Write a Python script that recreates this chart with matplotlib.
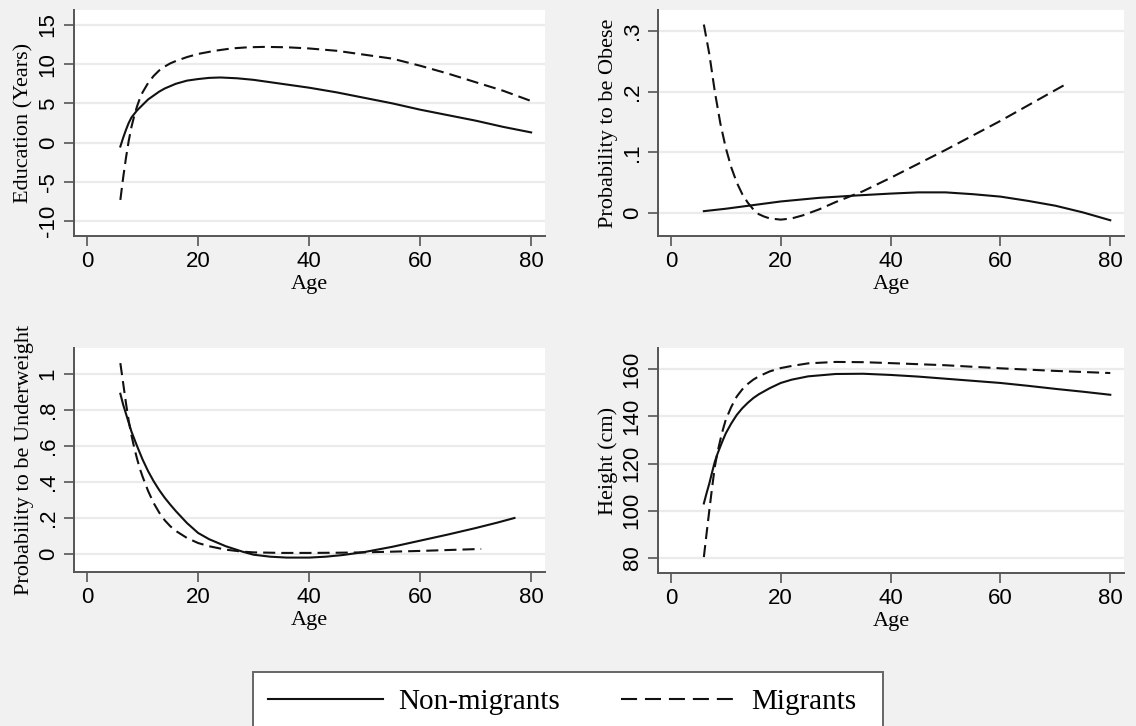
import matplotlib
matplotlib.use('Agg')
import matplotlib.pyplot as plt
from matplotlib.lines import Line2D
from matplotlib.patches import Rectangle

# ---- data ----
edu_age_non = [6, 6.5, 7, 7.5, 8, 9, 10, 11, 12, 13, 14, 15, 16, 18, 20, 22, 24, 27, 30, 35,
               40, 45, 50, 55, 60, 65, 70, 75, 80]
edu_non = [-0.5, 0.6, 1.6, 2.5, 3.2, 4.1, 4.8, 5.5, 6.0, 6.5, 6.9, 7.2, 7.5, 7.9, 8.1, 8.25, 8.3,
           8.2, 8.0, 7.5, 7.0, 6.4, 5.7, 5.0, 4.2, 3.5, 2.8, 2.0, 1.3]
edu_age_mig = [6, 6.5, 7, 7.5, 8, 8.5, 9, 9.5, 10, 11, 12, 13, 14, 15, 16, 18, 20, 23, 26, 29,
               32, 36, 40, 45, 49, 55, 60, 65, 70, 75, 80]
edu_mig = [-7.3, -4.5, -2.0, 0.2, 2.0, 3.4, 4.6, 5.6, 6.4, 7.6, 8.5, 9.2, 9.7, 10.1, 10.4, 10.9,
           11.3, 11.7, 12.0, 12.15, 12.2, 12.15, 12.0, 11.7, 11.3, 10.7, 9.8, 8.8, 7.7, 6.6, 5.3]

ob_age_non = [6, 10, 15, 20, 27, 34, 40, 45, 50, 55, 60, 65, 70, 75, 80]
ob_non = [0.003, 0.007, 0.013, 0.019, 0.025, 0.029, 0.032, 0.034, 0.034, 0.031, 0.027, 0.020,
          0.012, 0.001, -0.012]
ob_age_mig = [6, 7, 8, 9, 10, 11, 12, 13, 14, 15, 16, 17, 18, 20, 22, 24, 27, 30, 35, 40, 50,
              60, 72]
ob_mig = [0.311, 0.262, 0.200, 0.148, 0.107, 0.075, 0.050, 0.031, 0.017, 0.006, -0.002, -0.006,
          -0.009, -0.011, -0.009, -0.004, 0.006, 0.018, 0.036, 0.058, 0.104, 0.152, 0.213]

uw_age_non = [6, 6.5, 7, 7.5, 8, 9, 10, 11, 12, 13, 14, 15, 16, 18, 20, 22, 25, 28, 30, 33, 36,
              40, 43, 46, 50, 55, 60, 65, 70, 74, 77]
uw_non = [0.89, 0.83, 0.78, 0.73, 0.68, 0.60, 0.525, 0.46, 0.404, 0.355, 0.312, 0.274, 0.238,
          0.172, 0.117, 0.082, 0.043, 0.013, -0.004, -0.015, -0.020, -0.020, -0.015, -0.006,
          0.011, 0.040, 0.074, 0.108, 0.144, 0.175, 0.200]
uw_age_mig = [6, 6.5, 7, 7.5, 8, 8.5, 9, 9.5, 10, 11, 12, 13, 14, 15, 16, 18, 20, 22, 25, 28,
              30, 35, 40, 45, 50, 55, 60, 65, 71]
uw_mig = [1.06, 0.95, 0.84, 0.74, 0.66, 0.59, 0.53, 0.475, 0.43, 0.35, 0.283, 0.23, 0.187, 0.154,
          0.128, 0.089, 0.061, 0.043, 0.024, 0.013, 0.009, 0.006, 0.006, 0.007, 0.009, 0.013,
          0.017, 0.022, 0.028]

ht_age_non = [6, 6.5, 7, 7.5, 8, 8.5, 9, 9.5, 10, 11, 12, 13, 14, 15, 16, 18, 20, 22, 25, 30,
              35, 40, 45, 50, 55, 60, 65, 70, 75, 80]
ht_non = [103.1, 107.5, 111.6, 116.3, 120.8, 124.2, 127.2, 130.1, 132.8, 137.0, 140.6, 143.4,
          145.7, 147.7, 149.3, 151.9, 154.1, 155.5, 156.9, 157.9, 158.0, 157.5, 156.8, 155.9,
          155.0, 154.1, 152.9, 151.6, 150.4, 149.1]
ht_age_mig = [6, 6.5, 7, 7.5, 8, 8.5, 9, 9.5, 10, 11, 12, 13, 14, 15, 16, 18, 20, 22, 25, 30,
              35, 40, 50, 60, 70, 80]
ht_mig = [80.4, 90.5, 100.3, 109.8, 118.7, 124.9, 130.0, 134.6, 138.6, 144.0, 148.4, 151.4,
          153.7, 155.5, 156.9, 159.0, 160.4, 161.3, 162.4, 163.0, 162.9, 162.5, 161.6, 160.3,
          159.2, 158.3]

panels = [
    ("Education (Years)", edu_age_non, edu_non, edu_age_mig, edu_mig,
     [-10, -5, 0, 5, 10, 15], ["-10", "-5", "0", "5", "10", "15"], (-11.9, 16.9)),
    ("Probability to be Obese", ob_age_non, ob_non, ob_age_mig, ob_mig,
     [0, 0.1, 0.2, 0.3], ["0", ".1", ".2", ".3"], (-0.038, 0.335)),
    ("Probability to be Underweight", uw_age_non, uw_non, uw_age_mig, uw_mig,
     [0, 0.2, 0.4, 0.6, 0.8, 1.0], ["0", ".2", ".4", ".6", ".8", "1"], (-0.1, 1.144)),
    ("Height (cm)", ht_age_non, ht_non, ht_age_mig, ht_mig,
     [80, 100, 120, 140, 160], ["80", "100", "120", "140", "160"], (73.65, 168.9)),
]

# panel boxes in pixels: left, right, top, bottom
boxes = [(74, 545, 10, 236), (658, 1124, 10, 236),
         (74, 545, 348, 572), (658, 1124, 348, 573)]

W, H = 1136, 726
bg = '#f1f1f1'
axcol = '#555555'
ink = '#111111'
serif = ['Liberation Serif', 'DejaVu Serif']
sans = ['Liberation Sans', 'DejaVu Sans']

fig = plt.figure(figsize=(W / 100, H / 100), dpi=100, facecolor=bg)

for (ylab, xa, ya, xb, yb, ticks, labels, ylim), (l, r, t, b) in zip(panels, boxes):
    ax = fig.add_axes([l / W, 1 - b / H, (r - l) / W, (b - t) / H])
    ax.set_facecolor('white')
    for y in ticks:
        ax.axhline(y, color='#ebebeb', lw=1.6, zorder=0)
    ax.plot(xa, ya, color=ink, lw=1.5, solid_joinstyle='round')
    ax.plot(xb, yb, color=ink, lw=1.5, dashes=(5.8, 2.9))
    ax.set_xlim(-2.35, 82.5)
    ax.set_ylim(*ylim)
    ax.set_xticks([0, 20, 40, 60, 80])
    ax.set_xticklabels(["0", "20", "40", "60", "80"], family=sans, fontsize=16)
    ax.set_yticks(ticks)
    ax.set_yticklabels(labels, family=sans, fontsize=16, rotation=90, va='center')
    for s in ['top', 'right']:
        ax.spines[s].set_visible(False)
    for s in ['left', 'bottom']:
        ax.spines[s].set_color(axcol)
        ax.spines[s].set_linewidth(1.4)
    ax.tick_params(direction='out', length=7, width=1.2, color=axcol, pad=4)
    ax.set_xlabel("Age", family=serif, fontsize=16, labelpad=2)
    ax.set_ylabel(ylab, family=serif, fontsize=16)
    ax.yaxis.set_label_coords(-0.085, 0.5)

# legend box (runs off the bottom edge like the reference)
fig.patches.append(Rectangle((253 / W, 1 - 745 / H), (883 - 253) / W, (745 - 672) / H,
                             transform=fig.transFigure, facecolor='white',
                             edgecolor='#666666', lw=1.4, zorder=1))
handles = [Line2D([], [], color=ink, lw=1.5),
           Line2D([], [], color=ink, lw=1.5, dashes=(7.7, 3.8))]
fig.legend(handles, ["Non-migrants", "Migrants"], loc='center',
           bbox_to_anchor=(562 / W, 1 - 702 / H), ncol=2, frameon=False,
           prop={'family': serif, 'size': 21}, handlelength=3.97,
           handletextpad=0.5, columnspacing=2.1)

fig.savefig('out.png', dpi=100, facecolor=bg)
